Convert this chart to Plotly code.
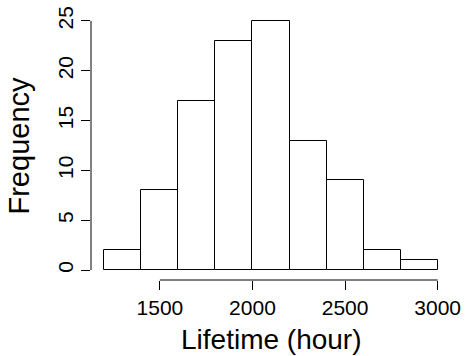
import plotly.graph_objects as go

bin_edges = [1200, 1400, 1600, 1800, 2000, 2200, 2400, 2600, 2800, 3000]
counts = [2, 8, 17, 23, 25, 13, 9, 2, 1]
x_ticks = [1500, 2000, 2500, 3000]
y_ticks = [0, 5, 10, 15, 20, 25]
x_label = "Lifetime (hour)"
y_label = "Frequency"

centers = [(a + b) / 2 for a, b in zip(bin_edges[:-1], bin_edges[1:])]
widths = [b - a for a, b in zip(bin_edges[:-1], bin_edges[1:])]

FONT = "Liberation Sans, Arial, Helvetica, sans-serif"

fig = go.Figure()
fig.add_trace(go.Bar(
    x=centers, y=counts, width=widths,
    marker=dict(color="white", line=dict(color="black", width=1)),
    hoverinfo="x+y",
))

fig.update_layout(
    width=465, height=356,
    margin=dict(l=91, r=14, t=11, b=76, autoexpand=False),
    paper_bgcolor="white", plot_bgcolor="white",
    showlegend=False,
    font=dict(family=FONT, color="black"),
    bargap=0,
    xaxis=dict(
        range=[1128, 3072], tickvals=x_ticks, ticktext=[str(v) for v in x_ticks],
        ticks="outside", ticklen=9, tickwidth=1, tickcolor="black",
        showline=False, showgrid=False, zeroline=False, automargin=False,
        tickfont=dict(size=21, family=FONT, color="black"),
    ),
    yaxis=dict(
        range=[-1, 26], tickvals=y_ticks, ticktext=[str(v) for v in y_ticks],
        ticks="outside", ticklen=9, tickwidth=1, tickcolor="black",
        tickangle=-90, automargin=False,
        showline=False, showgrid=False, zeroline=False,
        tickfont=dict(size=21, family=FONT, color="black"),
    ),
    shapes=[
        dict(type="line", xref="x", yref="paper", x0=x_ticks[0], x1=x_ticks[-1], y0=0, y1=0,
             line=dict(color="black", width=1)),
        dict(type="line", xref="paper", yref="y", x0=0, x1=0, y0=y_ticks[0], y1=y_ticks[-1],
             line=dict(color="black", width=1)),
    ],
    annotations=[
        dict(text=x_label, xref="paper", yref="paper", x=0.5, y=0, yshift=-76,
             xanchor="center", yanchor="bottom", showarrow=False, borderpad=0,
             font=dict(size=28, family=FONT, color="black")),
        dict(text=y_label, xref="paper", yref="paper", x=0, y=0.5, xshift=-91,
             xanchor="left", yanchor="middle", textangle=-90, showarrow=False,
             font=dict(size=29, family=FONT, color="black")),
    ],
)

fig.write_html("out.html")
